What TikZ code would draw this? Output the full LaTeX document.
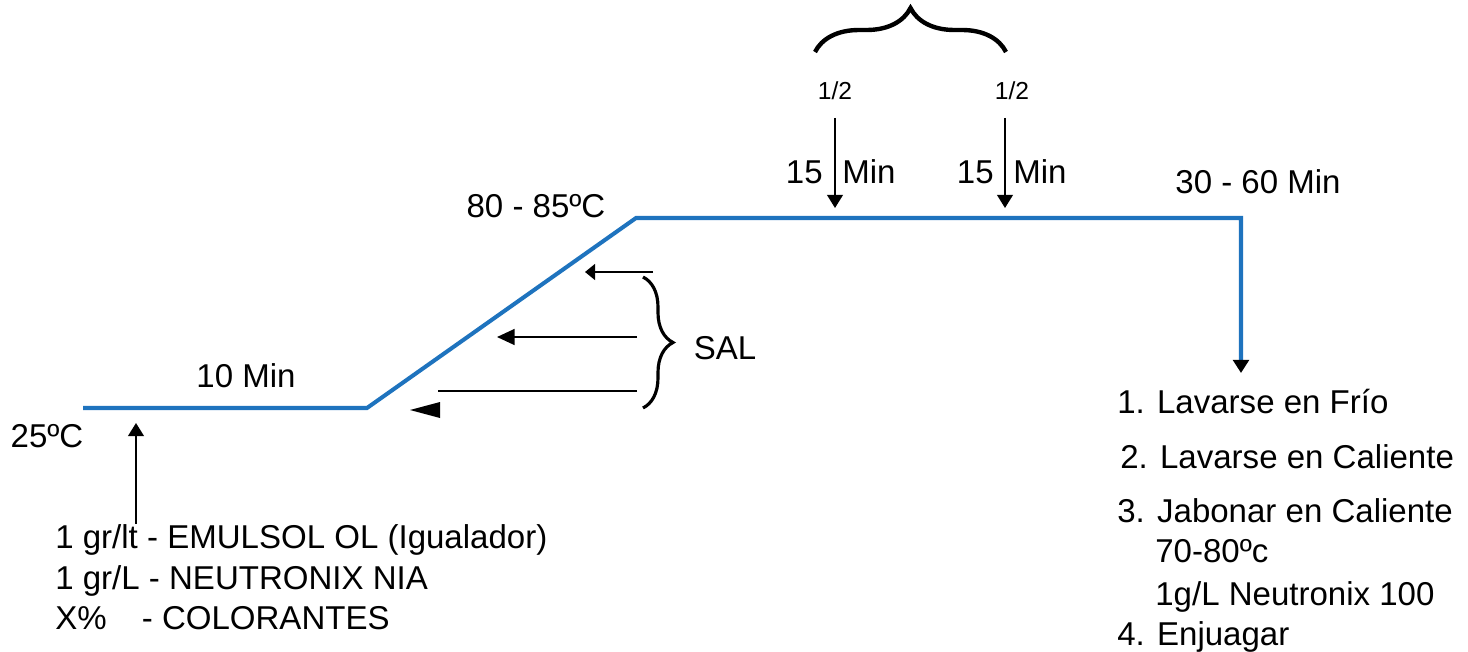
\documentclass[tikz,border=0pt]{standalone}
\usepackage{fontspec}
\setmainfont{Liberation Sans}
\usetikzlibrary{positioning,arrows.meta,decorations.pathreplacing}
\definecolor{curveblue}{RGB}{30,115,190}

\begin{document}
\begin{tikzpicture}[
  x=0.02cm, y=-0.02cm,
  curve/.style={draw=curveblue, line width=2.3pt},
  arr/.style={-{Triangle[length=7.5pt,width=9pt]}, line width=1.1pt},
  lbl/.style={font=\fontsize{18.8}{23.2}\selectfont, inner sep=0pt},
  small/.style={font=\fontsize{14}{17}\selectfont, inner sep=0pt},
  brc/.style={decorate, line width=2.5pt},
]
  \useasboundingbox (0,0) rectangle (1468,652);

  % temperature profile
  \coordinate (start)  at (83,408);
  \coordinate (heat)   at (367,408);
  \coordinate (top)    at (636,218);
  \coordinate (corner) at (1241,218);
  \coordinate (drain)  at (1241,373);
  \draw[curve, -{Triangle[length=7.5pt,width=9pt,color=black]}]
    (start) -- (heat) -- (top) -- (corner) -- (drain);

  \node[lbl] (t25)   at (47,436)   {25ºC};
  \node[lbl] (min10) at (246,376)  {10 Min};
  \node[lbl] (t80)   at (536,206)  {80 - 85ºC};
  \node[lbl] (min30) at (1258,182) {30 - 60 Min};

  % initial bath
  \node[lbl, align=left, anchor=north west] (chem) at (55,524)
    {1 gr/lt - EMULSOL OL (Igualador)\\
     1 gr/L - NEUTRONIX NIA\\
     \makebox[2.62em][l]{X\%}- COLORANTES};
  \coordinate (in1) at (136,423);
  \draw[arr] (chem.north -| in1) -- (in1);

  % salt additions
  \coordinate (s1a) at (653,272);
  \coordinate (s1b) at (585,272);
  \coordinate (s2a) at (637,337);
  \coordinate (s2b) at (497,337);
  \coordinate (s3a) at (637,391);
  \coordinate (s3b) at (438,391);
  \draw[-{Triangle[length=5.7pt,width=9pt]}, line width=1.1pt] (s1a) -- (s1b);
  \draw[-{Triangle[length=10pt,width=9pt]}, line width=1.1pt] (s2a) -- (s2b);
  \draw[line width=1.1pt] (s3a) -- (s3b);
  \fill (440,402) -- (410,410) -- (440,418) -- cycle;
  \draw[brc, line width=1.8pt, decoration={brace, amplitude=0.6cm}] (643,277) -- (643,408);
  \node[lbl] (sal) at (725,348) {SAL};

  % split additions
  \draw[brc, decoration={brace, amplitude=0.88cm}] (815,52) -- (1006,52);
  \node[small] (half1) at (835,91)  {1/2};
  \node[small] (half2) at (1012,91) {1/2};
  \coordinate (a1) at (835,118);
  \coordinate (b1) at (835,208);
  \coordinate (a2) at (1005,118);
  \coordinate (b2) at (1005,208);
  \draw[arr] (a1) -- (b1);
  \draw[arr] (a2) -- (b2);
  \node[lbl, anchor=east] (q1)  at (823,172)  {15};
  \node[lbl, anchor=west] (r1)  at (842,172)  {Min};
  \node[lbl, anchor=east] (q2)  at (994,172)  {15};
  \node[lbl, anchor=west] (r2)  at (1013,172) {Min};

  % after-treatment
  \node[lbl, anchor=base west] (step1) at (1117,413) {1. Lavarse en Frío};
  \node[lbl, anchor=base west] (step2) at (1120,468) {2. Lavarse en Caliente};
  \node[lbl, anchor=base west] (step3) at (1117,522) {3. Jabonar en Caliente};
  \node[lbl, anchor=base west] (temp3) at (1155,562) {70-80ºc};
  \node[lbl, anchor=base west] (dose3) at (1155,605) {1g/L Neutronix 100};
  \node[lbl, anchor=base west] (step4) at (1117,645) {4. Enjuagar};
\end{tikzpicture}
\end{document}
